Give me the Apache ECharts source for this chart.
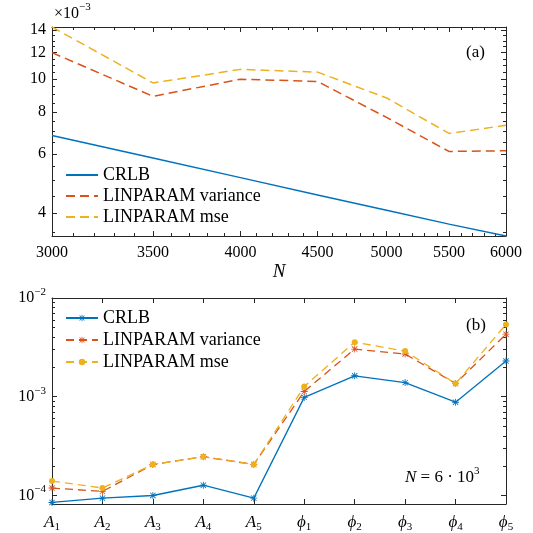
<!DOCTYPE html>
<html><head><meta charset="utf-8">
<script src="https://cdn.jsdelivr.net/npm/echarts@6/dist/echarts.min.js"></script>
<style>html,body{margin:0;padding:0;background:#fff}#c{width:533px;height:533px}</style>
</head><body><div id="c"></div>
<script>
// ---- data (top panel values in units of 1e-3) ----
const nValues = [3000, 3500, 4000, 4500, 5000, 5500, 6000];
const crlbTop = [6.80, 5.83, 5.10, 4.53, 4.08, 3.71, 3.42];
const varTop = [12.0, 8.9, 10.0, 9.85, 7.7, 6.1, 6.13];
const mseTop = [14.3, 9.75, 10.7, 10.5, 8.8, 6.9, 7.3];
const topYTicks = [4, 6, 8, 10, 12, 14];
const topYMinor = [3.5, 4.5, 5, 5.5, 6.5, 7, 7.5, 8.5, 9, 9.5, 10.5, 11, 11.5, 12.5, 13, 13.5];
const topXTicks = [3000, 3500, 4000, 4500, 5000, 5500, 6000];
const topXMinor = [3100, 3200, 3300, 3400, 3600, 3700, 3800, 3900, 4100, 4200, 4300, 4400, 4600, 4700, 4800, 4900, 5100, 5200, 5300, 5400, 5600, 5700, 5800, 5900];

const params = ['A1', 'A2', 'A3', 'A4', 'A5', 'ϕ1', 'ϕ2', 'ϕ3', 'ϕ4', 'ϕ5'];
const crlbBottom = [8.5e-5, 9.4e-5, 1.0e-4, 1.27e-4, 9.4e-5, 9.85e-4, 1.63e-3, 1.39e-3, 8.8e-4, 2.3e-3];
const varBottom = [1.19e-4, 1.10e-4, 2.06e-4, 2.47e-4, 2.06e-4, 1.13e-3, 3.04e-3, 2.71e-3, 1.36e-3, 4.3e-3];
const mseBottom = [1.40e-4, 1.19e-4, 2.06e-4, 2.47e-4, 2.06e-4, 1.27e-3, 3.57e-3, 2.9e-3, 1.36e-3, 5.4e-3];
const bottomYTicks = [1e-4, 1e-3, 1e-2];
const bottomYMinor = [2e-4, 3e-4, 4e-4, 5e-4, 6e-4, 7e-4, 8e-4, 9e-4, 2e-3, 3e-3, 4e-3, 5e-3, 6e-3, 7e-3, 8e-3, 9e-3];

const TOP_Y = [3.42, 14.3];
const TOP_X = [3000, 6000];
const BOT_Y = [8.2e-5, 1e-2];

const FONT = 'Liberation Serif';
const AX = '#262626';
const BLUE = '#0072BD', RED = '#D95319', YEL = '#EDB120';
const lg = Math.log10;

function overlay(pos, grid, range, vals, len, line, label) {
  const a = {
    type: 'value', gridIndex: grid, position: pos,
    min: lg(range[0]), max: lg(range[1]),
    splitLine: { show: false },
    axisLine: { show: line, lineStyle: { color: AX, width: 1 } },
    axisTick: { show: true, inside: true, length: len, customValues: vals.map(lg), lineStyle: { color: AX, width: 1 } },
    axisLabel: { show: false }
  };
  if (label) {
    a.axisLabel = Object.assign({ show: true, customValues: vals.map(lg), fontFamily: FONT, fontSize: 16, color: '#000' }, label);
  }
  return a;
}

const ASTER = 'path://M4.4,0h1.2v10h-1.2Z M0,4.4h10v1.2h-10Z M0.8,1.6L1.6,0.8L9.2,8.4L8.4,9.2Z M8.4,0.8L9.2,1.6L1.6,9.2L0.8,8.4Z';

const xAxis = [
  { type: 'log', gridIndex: 0, min: TOP_X[0], max: TOP_X[1], show: false },
  overlay('bottom', 0, TOP_X, topXTicks, 5, true, { margin: 9, formatter: v => String(Math.round(Math.pow(10, v))) }),
  overlay('bottom', 0, TOP_X, topXMinor, 3, false),
  overlay('top', 0, TOP_X, topXTicks, 5, true),
  overlay('top', 0, TOP_X, topXMinor, 3, false),
  {
    type: 'category', gridIndex: 1, position: 'bottom', data: params, boundaryGap: false,
    axisLine: { lineStyle: { color: AX, width: 1 } },
    axisTick: { inside: true, length: 5, interval: 0, lineStyle: { color: AX } },
    splitLine: { show: false },
    axisLabel: {
      margin: 8, interval: 0, color: '#000', fontFamily: FONT, fontSize: 17,
      formatter: v => '{i|' + v[0] + '}{s|' + v.slice(1) + '}',
      rich: {
        i: { fontFamily: FONT, fontSize: 17, fontStyle: 'italic', color: '#000' },
        s: { fontFamily: FONT, fontSize: 11, color: '#000', padding: [10, 0, 0, 0] }
      }
    }
  },
  {
    type: 'category', gridIndex: 1, position: 'top', data: params, boundaryGap: false,
    axisLine: { lineStyle: { color: AX, width: 1 } },
    axisTick: { inside: true, length: 5, interval: 0, lineStyle: { color: AX } },
    splitLine: { show: false }, axisLabel: { show: false }
  }
];
xAxis[1].name = 'N';
xAxis[1].nameLocation = 'middle';
xAxis[1].nameGap = 26;
xAxis[1].nameTextStyle = { fontFamily: FONT, fontSize: 19, fontStyle: 'italic', color: '#000' };

const yAxis = [
  { type: 'log', gridIndex: 0, min: TOP_Y[0], max: TOP_Y[1], show: false },
  overlay('left', 0, TOP_Y, topYTicks, 5, true, { margin: 6, formatter: v => String(Math.round(Math.pow(10, v))) }),
  overlay('left', 0, TOP_Y, topYMinor, 3, false),
  overlay('right', 0, TOP_Y, topYTicks, 5, true),
  overlay('right', 0, TOP_Y, topYMinor, 3, false),
  { type: 'log', gridIndex: 1, min: BOT_Y[0], max: BOT_Y[1], show: false },
  overlay('left', 1, BOT_Y, bottomYTicks, 5, true, {
    margin: 6,
    formatter: v => { const e = Math.round(v); return '{b|10}{s|' + (e < 0 ? '−' : '') + Math.abs(e) + '}'; },
    rich: {
      b: { fontFamily: FONT, fontSize: 16, color: '#000' },
      s: { fontFamily: FONT, fontSize: 11, color: '#000', padding: [0, 0, 12, 0] }
    }
  }),
  overlay('left', 1, BOT_Y, bottomYMinor, 3, false),
  overlay('right', 1, BOT_Y, bottomYTicks, 5, true),
  overlay('right', 1, BOT_Y, bottomYMinor, 3, false)
];

function topSeries(name, vals, color, dashed) {
  return {
    type: 'line', name: name, xAxisIndex: 0, yAxisIndex: 0,
    data: nValues.map((n, i) => [n, vals[i]]),
    symbol: 'none', clip: true, silent: true,
    lineStyle: { color: color, width: 1.5, type: dashed ? [9, 5] : 'solid' },
    itemStyle: { color: color }
  };
}
function botSeries(name, vals, color, dashed, sym, size) {
  return {
    type: 'line', name: name, xAxisIndex: 5, yAxisIndex: 5,
    data: vals.slice(), symbol: sym, symbolSize: size, showSymbol: true, clip: false, silent: true,
    lineStyle: { color: color, width: 1.3, type: dashed ? [8, 5] : 'solid' },
    itemStyle: { color: color }
  };
}

const series = [
  topSeries('CRLB', crlbTop, BLUE, false),
  topSeries('LINPARAM variance', varTop, RED, true),
  topSeries('LINPARAM mse', mseTop, YEL, true),
  botSeries('CRLB ', crlbBottom, BLUE, false, ASTER, 7),
  botSeries('LINPARAM variance ', varBottom, RED, true, ASTER, 7),
  botSeries('LINPARAM mse ', mseBottom, YEL, true, 'circle', 6)
];

const legendCommon = {
  orient: 'vertical', left: 60, itemWidth: 32,
  textStyle: { fontFamily: FONT, fontSize: 18, color: '#000' },
  selectedMode: false
};

const option = {
  animation: false,
  backgroundColor: '#fff',
  grid: [
    { left: 52, right: 27, top: 27, height: 209 },
    { left: 52, right: 27, top: 298, height: 209 }
  ],
  xAxis: xAxis,
  yAxis: yAxis,
  legend: [
    Object.assign({}, legendCommon, {
      top: 161, itemHeight: 14, itemGap: 3,
      itemStyle: { color: 'rgba(0,0,0,0)', borderWidth: 0, opacity: 0 },
      data: ['CRLB', 'LINPARAM variance', 'LINPARAM mse']
    }),
    Object.assign({}, legendCommon, {
      top: 304, itemHeight: 8, itemGap: 4,
      data: ['CRLB ', 'LINPARAM variance ', 'LINPARAM mse ']
    })
  ],
  graphic: [
    { type: 'text', left: 54, top: 2, style: { text: '{a|×10}{s|−3}', rich: { a: { fontFamily: FONT, fontSize: 16, fill: '#000' }, s: { fontFamily: FONT, fontSize: 11, fill: '#000', padding: [0, 0, 12, 0] } } } },
    { type: 'text', left: 466, top: 44, style: { text: '(a)', fontFamily: FONT, fontSize: 17, fill: '#000' } },
    { type: 'text', left: 466, top: 317, style: { text: '(b)', fontFamily: FONT, fontSize: 17, fill: '#000' } },
    { type: 'text', left: 405, top: 466, style: { text: '{i|N}{t| = 6 · 10}{s|3}', rich: { i: { fontFamily: FONT, fontSize: 17, fontStyle: 'italic', fill: '#000' }, t: { fontFamily: FONT, fontSize: 17, fill: '#000' }, s: { fontFamily: FONT, fontSize: 11, fill: '#000', padding: [0, 0, 12, 0] } } } }
  ],
  series: series
};
const chart = echarts.init(document.getElementById('c'), null, { renderer: 'canvas' });
chart.setOption(option);
</script>
</body></html>
